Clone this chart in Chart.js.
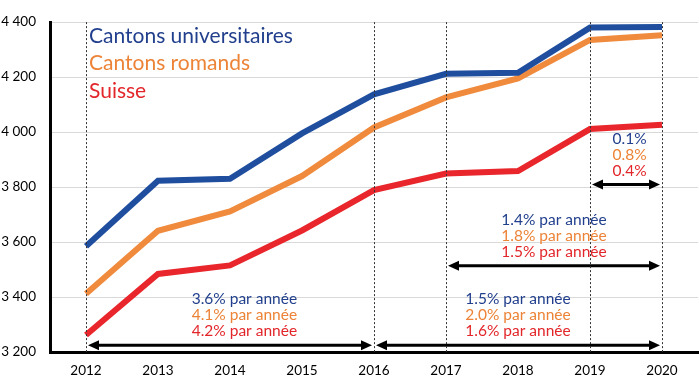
<!DOCTYPE html>
<html><head><meta charset="utf-8">
<script src="https://cdn.jsdelivr.net/npm/chart.js@4/dist/chart.umd.min.js"></script>
<style>html,body{margin:0;padding:0;background:#fff}#wrap{width:699px;height:380px}</style>
</head><body><div id="wrap"><canvas id="c" width="699" height="380"></canvas></div>
<script>
const years = ['2012','2013','2014','2015','2016','2017','2018','2019','2020'];
const universitaires = [3585, 3823, 3830, 3995, 4137, 4212, 4216, 4380, 4382];
const romands = [3412, 3641, 3711, 3840, 4017, 4126, 4195, 4335, 4352];
const suisse = [3262, 3484, 3515, 3642, 3789, 3849, 3858, 4011, 4027];
const seriesNames = ['Cantons universitaires', 'Cantons romands', 'Suisse'];
const yTicks = [3200, 3400, 3600, 3800, 4000, 4200, 4400];
const markedYears = ['2012','2016','2017','2019','2020'];
const periods = [['2012','2016'], ['2016','2020'], ['2017','2020'], ['2019','2020']];
const ratesUniv = ['3.6% par année', '1.5% par année', '1.4% par année', '0.1%'];
const ratesRomands = ['4.1% par année', '2.0% par année', '1.8% par année', '0.8%'];
const ratesSuisse = ['4.2% par année', '1.6% par année', '1.5% par année', '0.4%'];

const lineColors = ['#1f4e9f', '#f08a3c', '#e8262b'];
const textColors = ['#213f8d', '#ec8336', '#e3262a'];
// annotation layout (value units for arrow level, label center in index units)
const arrowLevels = [3225, 3225, 3514, 3809];
const labelCenters = [2.2, 6.0, 6.5, 7.55];
const FONT = 'Lato, "Open Sans", sans-serif';

const annot = {
  id: 'annot',
  afterDraw(chart) {
    const {ctx, chartArea, scales: {x, y}} = chart;
    ctx.save();
    ctx.strokeStyle = '#333';
    ctx.lineWidth = 1;
    ctx.setLineDash([2, 2]);
    markedYears.forEach(yr => {
      const px = Math.round(x.getPixelForValue(years.indexOf(yr))) + 0.5;
      ctx.beginPath(); ctx.moveTo(px, chartArea.top); ctx.lineTo(px, chartArea.bottom); ctx.stroke();
    });
    ctx.setLineDash([]);
    ctx.restore();
  },
  afterDatasetsDraw(chart) {
    const {ctx, chartArea, scales: {x, y}} = chart;
    ctx.save();
    ctx.font = '21px ' + FONT;
    ctx.textBaseline = 'middle';
    ctx.textAlign = 'left';
    const lx = x.getPixelForValue(0) + 3;
    seriesNames.forEach((n, i) => {
      ctx.fillStyle = textColors[i];
      ctx.fillText(n, lx, chartArea.top + 14 + i * 27.5);
    });
    periods.forEach((p, k) => {
      const x1 = x.getPixelForValue(years.indexOf(p[0])) + 2;
      const x2 = x.getPixelForValue(years.indexOf(p[1])) - 2;
      const py = y.getPixelForValue(arrowLevels[k]);
      ctx.strokeStyle = '#000'; ctx.fillStyle = '#000'; ctx.lineWidth = 3;
      ctx.beginPath(); ctx.moveTo(x1 + 8, py); ctx.lineTo(x2 - 8, py); ctx.stroke();
      ctx.beginPath(); ctx.moveTo(x1, py); ctx.lineTo(x1 + 11, py - 5); ctx.lineTo(x1 + 11, py + 5); ctx.closePath(); ctx.fill();
      ctx.beginPath(); ctx.moveTo(x2, py); ctx.lineTo(x2 - 11, py - 5); ctx.lineTo(x2 - 11, py + 5); ctx.closePath(); ctx.fill();
      const cx = x.getPixelForValue(labelCenters[k]);
      ctx.font = '15.5px ' + FONT;
      ctx.textAlign = 'center';
      ctx.textBaseline = 'middle';
      [ratesUniv[k], ratesRomands[k], ratesSuisse[k]].forEach((t, i) => {
        ctx.fillStyle = textColors[i];
        ctx.fillText(t, cx, py - 46 + i * 16);
      });
    });
    ctx.restore();
  }
};

new Chart(document.getElementById('c'), {
  type: 'line',
  data: {
    labels: years,
    datasets: [universitaires, romands, suisse].map((d, i) => ({
      label: seriesNames[i], data: d, borderColor: lineColors[i], backgroundColor: lineColors[i],
      borderWidth: 6, pointRadius: 0, tension: 0, borderJoinStyle: 'miter', borderCapStyle: 'butt'
    }))
  },
  options: {
    responsive: false, animation: false,
    layout: {padding: {top: 17, right: 1, left: 0, bottom: 0}},
    plugins: {legend: {display: false}, tooltip: {enabled: false}},
    scales: {
      x: {
        offset: true,
        grid: {display: false, drawTicks: false},
        border: {display: true, color: '#000', width: 3},
        ticks: {color: '#000', font: {family: FONT, size: 13.5}, padding: 11, maxRotation: 0},
        afterFit(s) { s.height = 28; }
      },
      y: {
        min: 3200, max: 4400,
        afterBuildTicks(s) { s.ticks = yTicks.map(v => ({value: v})); },
        grid: {color: '#d9d9d9', lineWidth: 1, drawTicks: false},
        border: {display: true, color: '#000', width: 3},
        ticks: {color: '#000', font: {family: FONT, size: 13.5}, padding: 14,
          callback: v => String(v).replace(/\B(?=(\d{3})+(?!\d))/g, ' ')},
        afterFit(s) { s.width = 50; }
      }
    }
  },
  plugins: [annot]
});
</script></body></html>
